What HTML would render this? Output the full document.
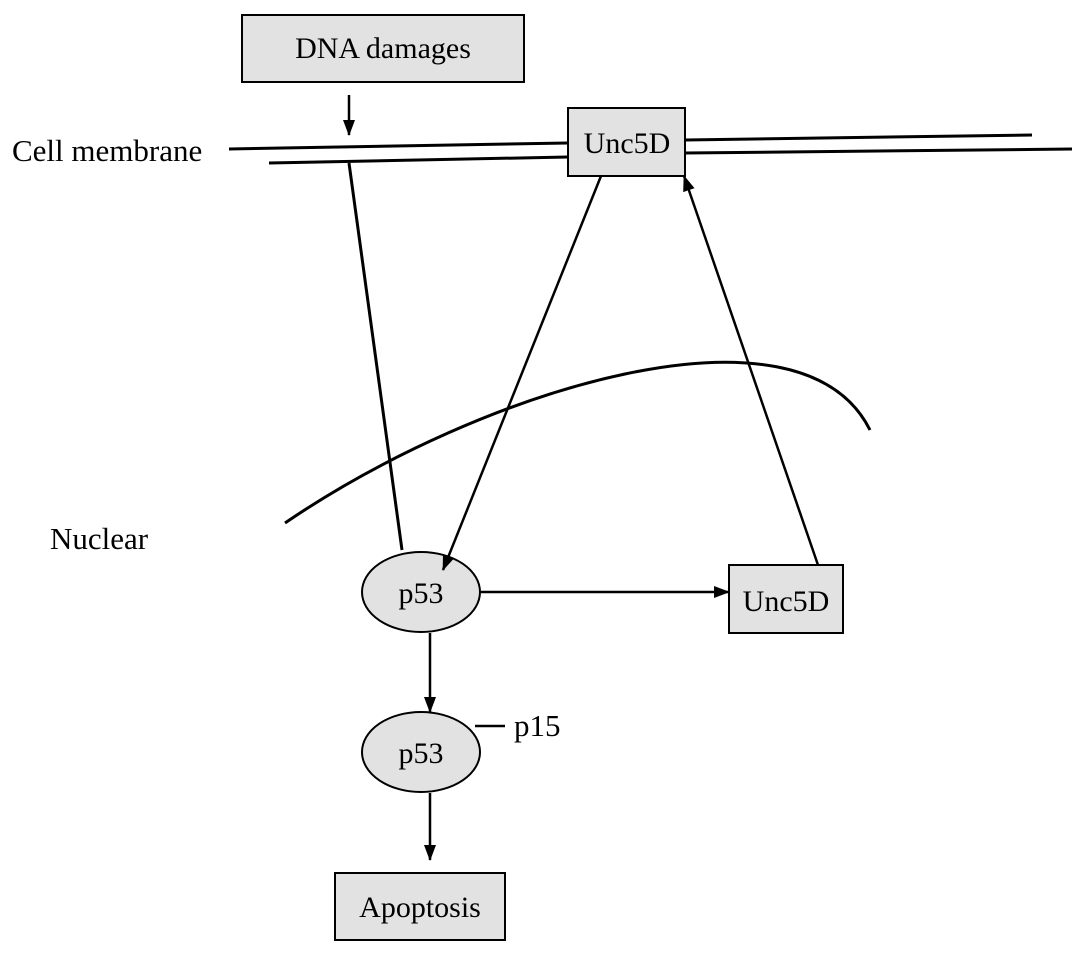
<!DOCTYPE html>
<html><head><meta charset="utf-8"><style>
body{margin:0;background:#fff}
svg{display:block}
text{font-family:"Liberation Serif",serif;fill:#000}
</style></head><body>
<svg width="1087" height="956" viewBox="0 0 1087 956" xmlns="http://www.w3.org/2000/svg">
<defs>
<marker id="a" markerWidth="16" markerHeight="16" refX="15" refY="8" orient="auto" markerUnits="userSpaceOnUse" viewBox="0 0 16 16">
<path d="M0,2 L16,8 L0,14 z" fill="#000"/></marker>
</defs>
<g stroke="#000" stroke-width="2" fill="#e2e2e2">
<rect x="242" y="15" width="282" height="67"/>
<rect x="568" y="108" width="117" height="68"/>
<rect x="729" y="565" width="114" height="68"/>
<rect x="335" y="873" width="170" height="67"/>
<ellipse cx="421" cy="592" rx="59" ry="40"/>
<ellipse cx="421" cy="752" rx="59" ry="40"/>
</g>
<g stroke="#000" stroke-width="3" fill="none">
<line x1="229" y1="149" x2="568" y2="143"/>
<line x1="685" y1="140" x2="1032" y2="135"/>
<line x1="269" y1="163" x2="568" y2="157"/>
<line x1="685" y1="153" x2="1072" y2="149"/>
<path d="M285,523 C480,390 800,290 870,430"/>
<line x1="349" y1="163" x2="402" y2="550"/>
</g>
<g stroke="#000" stroke-width="2.5" fill="none">
<line x1="349" y1="95" x2="349" y2="135" marker-end="url(#a)"/>
<line x1="601" y1="176" x2="443" y2="570" marker-end="url(#a)"/>
<line x1="818" y1="565" x2="684" y2="176" marker-end="url(#a)"/>
<line x1="481" y1="592" x2="729" y2="592" marker-end="url(#a)"/>
<line x1="430" y1="633" x2="430" y2="712" marker-end="url(#a)"/>
<line x1="430" y1="793" x2="430" y2="860" marker-end="url(#a)"/>
<line x1="475" y1="726" x2="505" y2="726"/>
</g>
<g font-size="30" text-anchor="middle">
<text x="383" y="58">DNA damages</text>
<text x="627" y="153">Unc5D</text>
<text x="786" y="611">Unc5D</text>
<text x="420" y="917">Apoptosis</text>
<text x="421" y="603">p53</text>
<text x="421" y="763">p53</text>
</g>
<g font-size="31">
<text x="12" y="161">Cell membrane</text>
<text x="50" y="549">Nuclear</text>
<text x="514" y="736">p15</text>
</g>
</svg>
</body></html>
